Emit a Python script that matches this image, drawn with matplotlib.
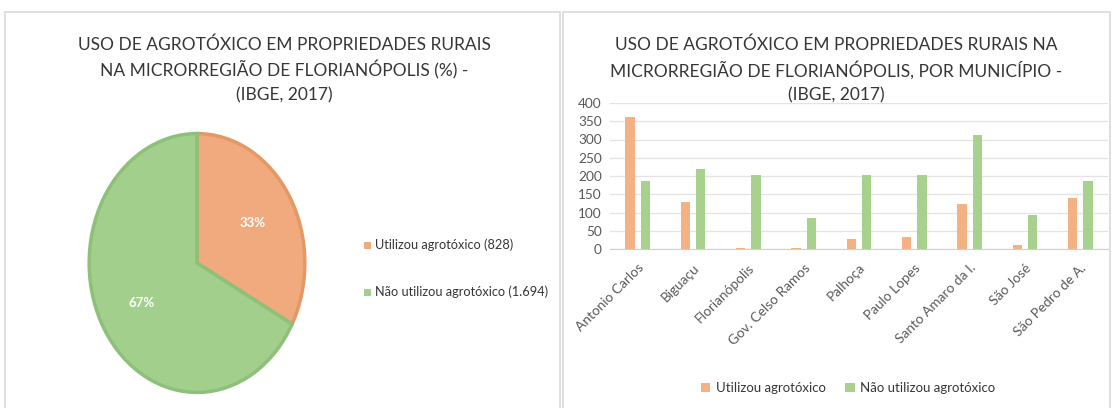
import matplotlib.pyplot as plt
from matplotlib.patches import Rectangle
import numpy as np

plt.rcParams['font.family'] = ['Lato', 'DejaVu Sans']

# pie data
pie_labels = ['Utilizou agrotóxico (828)', 'Não utilizou agrotóxico (1.694)']
pie_values = [828, 1694]

# bar data
municipios = ['Antonio Carlos', 'Biguaçu', 'Florianópolis', 'Gov. Celso Ramos', 'Palhoça',
              'Paulo Lopes', 'Santo Amaro da I.', 'São José', 'São Pedro de A.']
utilizou = [362, 128, 3, 2, 28, 34, 122, 10, 139]
nao_utilizou = [187, 219, 204, 85, 204, 202, 313, 94, 187]

orange = '#F0AA7D'
orange_edge = '#E39866'
green = '#A3CF8C'
green_edge = '#8DC078'
bar_orange = '#F4B183'
bar_green = '#A9D18E'
txt = '#363636'

W, H = 1114, 408
fig = plt.figure(figsize=(W / 100, H / 100), dpi=100)

# panel borders
for x0, x1 in [(5, 560), (563, 1110)]:
    fig.patches.append(Rectangle((x0 / W, -0.1), (x1 - x0) / W, (H - 12) / H + 0.1,
                                 transform=fig.transFigure, fill=False,
                                 edgecolor='#D9D9D9', linewidth=1.2))

# ---- left: pie ----
title_left = ['USO DE AGROTÓXICO EM PROPRIEDADES RURAIS', 'NA MICRORREGIÃO DE FLORIANÓPOLIS (%) -',
              '(IBGE, 2017)']
for i, line in enumerate(title_left):
    fig.text(284 / W, 1 - (45 + 25 * i) / H, line, ha='center', va='center', fontsize=12.5, color=txt)

ax1 = fig.add_axes([87 / W, 13 / H, 220 / W, 264 / H])
wedges, texts, autotexts = ax1.pie(pie_values, colors=[orange, green], startangle=90, counterclock=False,
                                   autopct='%1.0f%%', pctdistance=0.6,
                                   textprops=dict(color='white', fontsize=9.5, fontweight='bold'),
                                   wedgeprops=dict(linewidth=2.5))
wedges[0].set_edgecolor(orange_edge)
wedges[1].set_edgecolor(green_edge)
ax1.set_aspect('auto')
ax1.set_xlim(-1.02, 1.02)
ax1.set_ylim(-1.02, 1.02)

for i, (lab, col) in enumerate(zip(pie_labels, [orange, green])):
    y = 1 - (245 + 47 * i) / H
    fig.patches.append(Rectangle((364 / W, y - 3.5 / H), 7 / W, 7 / H, transform=fig.transFigure,
                                 facecolor=col, edgecolor='none'))
    fig.text(375 / W, y, lab, ha='left', va='center', fontsize=9.2, color=txt)

# ---- right: bars ----
title_right = ['USO DE AGROTÓXICO EM PROPRIEDADES RURAIS NA', 'MICRORREGIÃO DE FLORIANÓPOLIS, POR MUNICÍPIO -',
               '(IBGE, 2017)']
for i, line in enumerate(title_right):
    fig.text(836 / W, 1 - (45 + 25 * i) / H, line, ha='center', va='center', fontsize=12.5, color=txt)

ax2 = fig.add_axes([610 / W, 159 / H, 498 / W, 146 / H])
x = np.arange(len(municipios))
ax2.bar(x - 0.14, utilizou, width=0.17, color=bar_orange, label='Utilizou agrotóxico', zorder=3)
ax2.bar(x + 0.14, nao_utilizou, width=0.17, color=bar_green, label='Não utilizou agrotóxico', zorder=3)
ax2.set_xlim(-0.5, len(municipios) - 0.5)
ax2.set_ylim(0, 400)
ax2.set_yticks(range(0, 401, 50))
ax2.grid(axis='y', color='#E3E3E3', linewidth=0.9, zorder=0)
for s in ['top', 'right', 'left']:
    ax2.spines[s].set_visible(False)
ax2.spines['bottom'].set_color('#D0D0D0')
ax2.tick_params(axis='both', length=0, colors='#595959', labelsize=9.8)
ax2.tick_params(axis='y', pad=6)
ax2.tick_params(axis='x', pad=9)
ax2.set_xticks(x)
ax2.set_xticklabels(municipios, rotation=45, ha='right', rotation_mode='anchor', fontsize=9.8)
ax2.legend(loc='center', bbox_to_anchor=(848 / W, 1 - 388 / H), bbox_transform=fig.transFigure,
           ncol=2, frameon=False, fontsize=9.5, handlelength=0.7, handleheight=0.7,
           columnspacing=1.5, handletextpad=0.4, labelcolor=txt)

fig.savefig('out.png', dpi=100)
